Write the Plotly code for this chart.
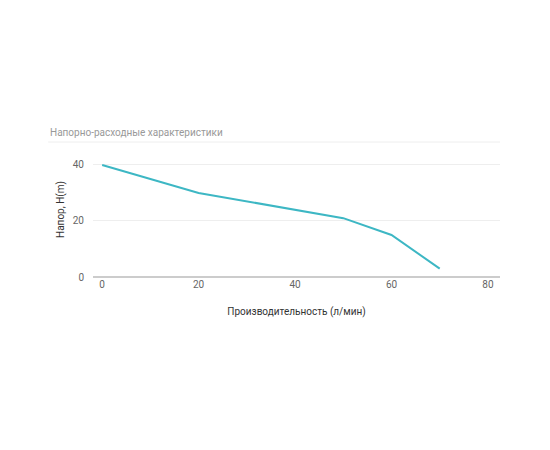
import plotly.graph_objects as go

flow = [0, 20, 50, 60, 70]
head = [40, 30, 21, 15, 3]
x_ticks = [0, 20, 40, 60, 80]
y_ticks = [0, 20, 40]

fig = go.Figure(go.Scatter(x=flow, y=head, mode="lines",
                           line=dict(color="#3db7c4", width=2), hoverinfo="skip"))
fig.update_layout(
    width=550, height=450, plot_bgcolor="white", paper_bgcolor="white",
    margin=dict(l=85, r=58, t=134, b=181), showlegend=False,
    font=dict(family="Roboto, Open Sans, sans-serif", color="#555", size=10),
    annotations=[dict(text="Напорно-расходные характеристики", xref="paper", yref="paper",
                      x=-0.11, y=1.0, xanchor="left", yanchor="bottom", yshift=2, showarrow=False,
                      font=dict(size=10, color="#999"))],
    shapes=[dict(type="line", xref="paper", yref="paper", x0=-0.11, x1=1.0, y0=1.0, y1=1.0,
                 line=dict(color="#eeeeee", width=1))],
)
fig.update_xaxes(range=[-1.9, 82.5], tickvals=x_ticks, showgrid=False, zeroline=False,
                 showline=False, ticks="", tickfont=dict(color="#666"),
                 title=dict(text="Производительность (л/мин)", font=dict(size=10, color="#333"), standoff=18))
fig.update_yaxes(range=[0, 48.2], tickvals=y_ticks, showgrid=True, gridcolor="#eeeeee",
                 zeroline=True, zerolinecolor="#cccccc", zerolinewidth=1.5, ticks="",
                 tickfont=dict(color="#666"), ticklabelstandoff=8,
                 title=dict(text="Напор, H(m)", font=dict(size=10, color="#333"), standoff=6))
fig.write_html("out.html")
